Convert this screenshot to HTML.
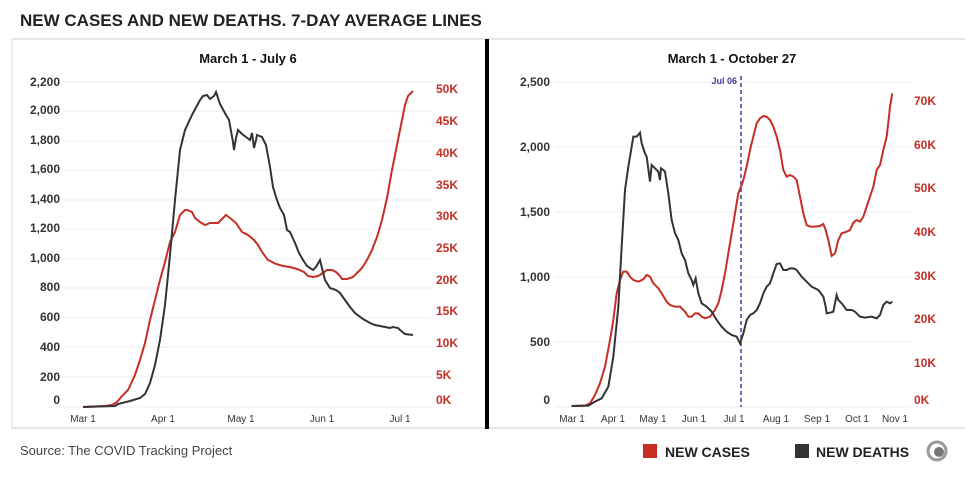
<!DOCTYPE html>
<html><head><meta charset="utf-8"><style>
body{margin:0;background:#fff;width:975px;height:480px;overflow:hidden;font-family:"Liberation Sans",sans-serif}
</style></head><body>
<svg width="975" height="480" xmlns="http://www.w3.org/2000/svg" font-family="Liberation Sans, sans-serif">
<text x="20" y="26" font-size="17" font-weight="bold" fill="#222">NEW CASES AND NEW DEATHS. 7-DAY AVERAGE LINES</text>
<line x1="12" y1="39" x2="965" y2="39" stroke="#ccc" stroke-width="1"/>
<line x1="12" y1="428" x2="965" y2="428" stroke="#ccc" stroke-width="1"/>
<line x1="12" y1="39" x2="12" y2="428" stroke="#ddd"/>
<rect x="485" y="39" width="4" height="390" fill="#000"/>
<!-- left panel -->
<text x="248" y="63" font-size="13" font-weight="bold" text-anchor="middle" fill="#111">March 1 - July 6</text>
<g stroke="#eee" stroke-width="1">
<line x1="63" x2="432" y1="81.7" y2="81.7"/><line x1="63" x2="432" y1="111" y2="111"/><line x1="63" x2="432" y1="141" y2="141"/><line x1="63" x2="432" y1="170" y2="170"/><line x1="63" x2="432" y1="200" y2="200"/><line x1="63" x2="432" y1="229" y2="229"/><line x1="63" x2="432" y1="259" y2="259"/><line x1="63" x2="432" y1="288" y2="288"/><line x1="63" x2="432" y1="318" y2="318"/><line x1="63" x2="432" y1="347" y2="347"/><line x1="63" x2="432" y1="377" y2="377"/><line x1="63" x2="432" y1="407" y2="407"/>
</g>
<g font-size="12" font-weight="bold" fill="#333" text-anchor="end">
<text x="60" y="86">2,200</text><text x="60" y="114">2,000</text><text x="60" y="144">1,800</text><text x="60" y="173">1,600</text><text x="60" y="203">1,400</text><text x="60" y="232">1,200</text><text x="60" y="262">1,000</text><text x="60" y="291">800</text><text x="60" y="321">600</text><text x="60" y="351">400</text><text x="60" y="381">200</text><text x="60" y="404">0</text>
</g>
<g font-size="12" font-weight="bold" fill="#c62d24">
<text x="436" y="93">50K</text><text x="436" y="125">45K</text><text x="436" y="157">40K</text><text x="436" y="189">35K</text><text x="436" y="220">30K</text><text x="436" y="252">25K</text><text x="436" y="284">20K</text><text x="436" y="315">15K</text><text x="436" y="347">10K</text><text x="436" y="379">5K</text><text x="436" y="404">0K</text>
</g>
<g font-size="10" fill="#333" text-anchor="middle">
<text x="83" y="422">Mar 1</text><text x="163" y="422">Apr 1</text><text x="241" y="422">May 1</text><text x="322" y="422">Jun 1</text><text x="400" y="422">Jul 1</text>
</g>
<polyline fill="none" stroke="#c62d24" stroke-width="2" points="83,407 105,406 112,405 117,402 122,396 128,390 135,375 140,360 145,343 150,320 155,300 160,280 165,262 170,242 175,232 180,215 185,210 187,210 192,212 195,218 200,222 205,225 210,223 218,223 222,219 226,215 230,218 236,223 242,232 248,235 254,240 258,245 262,252 268,260 276,264 283,266 290,267 297,269 304,272 308,276 313,277 318,276 323,273 327,270 332,270 336,272 340,276 342,279 347,279 353,277 358,272 362,268 367,260 372,250 377,237 382,220 387,198 392,170 397,145 402,120 405,105 408,96 413,91"/>
<polyline fill="none" stroke="#333" stroke-width="2" points="83,407 115,406 118,404 130,401 140,398 145,394 150,383 155,365 160,340 165,305 170,255 175,200 180,150 185,130 192,115 200,100 203,96 207,95 210,99 214,96 216,92 220,104 226,115 229,120 233,142 234,150 236,138 238,130 242,134 246,137 250,140 252,133 254,148 256,140 257,135 262,137 266,145 270,167 273,187 277,200 280,208 284,215 287,230 290,232 295,243 299,253 303,260 307,266 313,270 316,267 320,260 325,280 330,288 336,290 340,293 345,300 350,307 355,313 363,319 370,323 375,325 380,326 385,327 390,328 393,327 398,328 400,330 405,334 413,335"/>
<!-- right panel -->
<text x="732" y="63" font-size="13" font-weight="bold" text-anchor="middle" fill="#111">March 1 - October 27</text>
<g stroke="#eee" stroke-width="1">
<line x1="555" x2="910" y1="82" y2="82"/><line x1="555" x2="910" y1="147" y2="147"/><line x1="555" x2="910" y1="212" y2="212"/><line x1="555" x2="910" y1="277" y2="277"/><line x1="555" x2="910" y1="342" y2="342"/><line x1="555" x2="910" y1="407" y2="407"/>
</g>
<g font-size="12" font-weight="bold" fill="#333" text-anchor="end">
<text x="550" y="86">2,500</text><text x="550" y="151">2,000</text><text x="550" y="216">1,500</text><text x="550" y="281">1,000</text><text x="550" y="346">500</text><text x="550" y="404">0</text>
</g>
<g font-size="12" font-weight="bold" fill="#c62d24">
<text x="914" y="105">70K</text><text x="914" y="149">60K</text><text x="914" y="192">50K</text><text x="914" y="236">40K</text><text x="914" y="280">30K</text><text x="914" y="323">20K</text><text x="914" y="367">10K</text><text x="914" y="404">0K</text>
</g>
<g font-size="10" fill="#333" text-anchor="middle">
<text x="572" y="422">Mar 1</text><text x="613" y="422">Apr 1</text><text x="653" y="422">May 1</text><text x="694" y="422">Jun 1</text><text x="734" y="422">Jul 1</text><text x="776" y="422">Aug 1</text><text x="817" y="422">Sep 1</text><text x="857" y="422">Oct 1</text><text x="895" y="422">Nov 1</text>
</g>
<line x1="741" y1="76" x2="741" y2="407" stroke="#4b3a9a" stroke-width="1.5" stroke-dasharray="4,3"/>
<text x="737" y="84" font-size="9" font-weight="bold" fill="#4b3a9a" text-anchor="end">Jul 06</text>
<g transform="translate(485,40) scale(0.33333)">
<polyline fill="none" stroke="#c62d24" stroke-width="6" points="260,1098 300,1097 315,1090 330,1065 345,1030 360,980 375,900 385,840 395,760 405,720 415,695 425,695 435,710 445,720 460,725 475,718 485,705 495,710 505,730 520,745 530,760 545,785 555,795 570,800 585,800 600,815 610,830 620,830 630,820 640,820 650,830 660,835 675,830 690,810 700,790 710,750 720,700 730,640 740,580 750,520 760,460 768,440 775,420 785,380 795,330 805,290 815,250 825,235 835,228 845,230 855,240 865,260 875,290 885,330 895,390 905,410 915,405 925,410 935,420 945,470 955,520 965,555 975,560 990,560 1005,558 1015,552 1022,570 1030,600 1040,648 1050,640 1060,600 1070,580 1085,575 1095,570 1105,548 1115,540 1125,545 1135,530 1145,500 1155,470 1165,440 1175,390 1185,375 1195,330 1205,290 1212,230 1215,200 1222,160"/>
<polyline fill="none" stroke="#333" stroke-width="6" points="260,1098 310,1097 330,1085 350,1075 370,1040 385,950 400,800 410,620 420,450 430,380 440,320 445,290 455,290 465,278 470,310 480,340 485,350 495,425 500,375 510,385 520,395 525,420 528,385 535,390 540,395 550,460 560,540 570,580 580,600 590,640 600,660 610,700 620,720 625,735 632,715 640,760 650,790 665,800 680,815 695,840 710,860 725,875 740,885 755,890 765,910 775,880 785,840 795,825 805,820 815,810 825,790 835,760 845,740 855,730 865,700 875,672 885,670 895,690 905,690 915,685 925,685 935,690 950,710 965,725 980,740 1000,750 1015,770 1022,800 1025,820 1035,818 1045,815 1050,790 1055,765 1060,780 1070,790 1085,810 1100,810 1110,815 1125,830 1140,833 1160,830 1175,835 1185,825 1195,795 1205,785 1215,790 1222,785"/>
</g>
<!-- footer -->
<text x="20" y="455" font-size="13" fill="#444">Source: The COVID Tracking Project</text>
<rect x="643" y="444" width="14" height="14" fill="#c62d24"/>
<text x="665" y="457" font-size="14" font-weight="bold" fill="#222">NEW CASES</text>
<rect x="795" y="444" width="14" height="14" fill="#333"/>
<text x="816" y="457" font-size="14" font-weight="bold" fill="#222">NEW DEATHS</text>
<circle cx="937" cy="451" r="9" fill="none" stroke="#999" stroke-width="3"/>
<circle cx="939" cy="452" r="5" fill="#777"/>
</svg>
</body></html>
